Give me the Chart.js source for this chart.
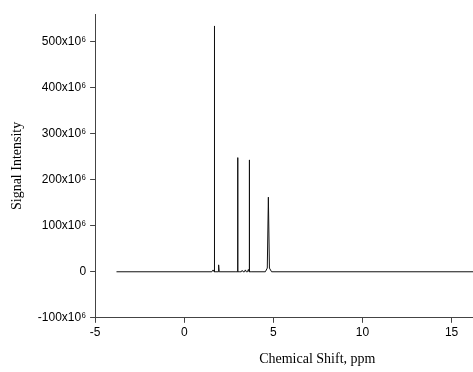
<!DOCTYPE html>
<html>
<head>
<meta charset="utf-8">
<script src="https://cdn.jsdelivr.net/npm/chart.js@4/dist/chart.umd.min.js"></script>
<style>
  html, body { margin: 0; padding: 0; background: #fff; }
  #wrap { width: 473px; height: 372px; }
</style>
</head>
<body>
<div id="wrap"><canvas id="nmr"></canvas></div>
<script>
/* spectrum data: chemical shift (ppm) and intensity (x10^6) */
const shiftPpm = [-3.8, 1.55, 1.62, 1.675, 1.69, 1.705, 1.78, 1.9, 1.93, 1.96,
  2.9, 2.975, 2.99, 3.005, 3.015, 3.08, 3.2, 3.25, 3.3, 3.38, 3.43, 3.48,
  3.55, 3.6, 3.635, 3.65, 3.665, 3.75, 4.55, 4.66, 4.72, 4.78, 4.9, 16.2];
const intensityM = [0, 0, 4, 0, 534, 0, 0, 0, 15, 0,
  0, 0, 248, 210, 0, 0, 0, 3, 0, 0, 4, 0,
  0, 5, 0, 243, 0, 0, 0, 8, 162, 8, 0, 0];

const xTicks = [-5, 0, 5, 10, 15];
const yTicks = [-100e6, 0, 100e6, 200e6, 300e6, 400e6, 500e6];
const yTickLabels = ["-100x10\u2076", "0", "100x10\u2076", "200x10\u2076",
  "300x10\u2076", "400x10\u2076", "500x10\u2076"];

const points = shiftPpm.map((x, i) => ({ x, y: intensityM[i] * 1e6 }));

const axisColor = "#444";

new Chart(document.getElementById("nmr"), {
  type: "line",
  data: {
    datasets: [{
      data: points,
      borderColor: "#111",
      borderWidth: 1,
      pointRadius: 0,
      tension: 0,
      fill: false
    }]
  },
  options: {
    responsive: true,
    maintainAspectRatio: false,
    animation: false,
    layout: { padding: { top: 14, right: 0, left: 9, bottom: 4 } },
    plugins: { legend: { display: false }, tooltip: { enabled: false } },
    scales: {
      x: {
        type: "linear",
        min: -5,
        max: 16.2,
        afterBuildTicks: (axis) => { axis.ticks = xTicks.map(v => ({ value: v })); },
        grid: { drawOnChartArea: false, drawTicks: true, tickLength: 5, color: axisColor },
        border: { color: axisColor, width: 1 },
        ticks: { color: "#000", font: { family: "Liberation Sans", size: 12 }, padding: 3 },
        title: {
          display: true,
          text: "\u00a0".repeat(19) + "Chemical Shift, ppm",
          color: "#000",
          font: { family: "Liberation Serif", size: 14 },
          padding: { top: 8, bottom: 0 }
        }
      },
      y: {
        min: -100e6,
        max: 560e6,
        afterBuildTicks: (axis) => { axis.ticks = yTicks.map(v => ({ value: v })); },
        grid: { drawOnChartArea: false, drawTicks: true, tickLength: 5, color: axisColor },
        border: { color: axisColor, width: 1 },
        ticks: {
          color: "#000",
          font: { family: "Liberation Sans", size: 12 },
          padding: 4,
          callback: (v) => yTickLabels[yTicks.indexOf(v)]
        },
        title: {
          display: true,
          text: "Signal Intensity",
          color: "#000",
          font: { family: "Liberation Serif", size: 14 },
          padding: { top: 0, bottom: 8 }
        }
      }
    }
  }
});
</script>
</body>
</html>
